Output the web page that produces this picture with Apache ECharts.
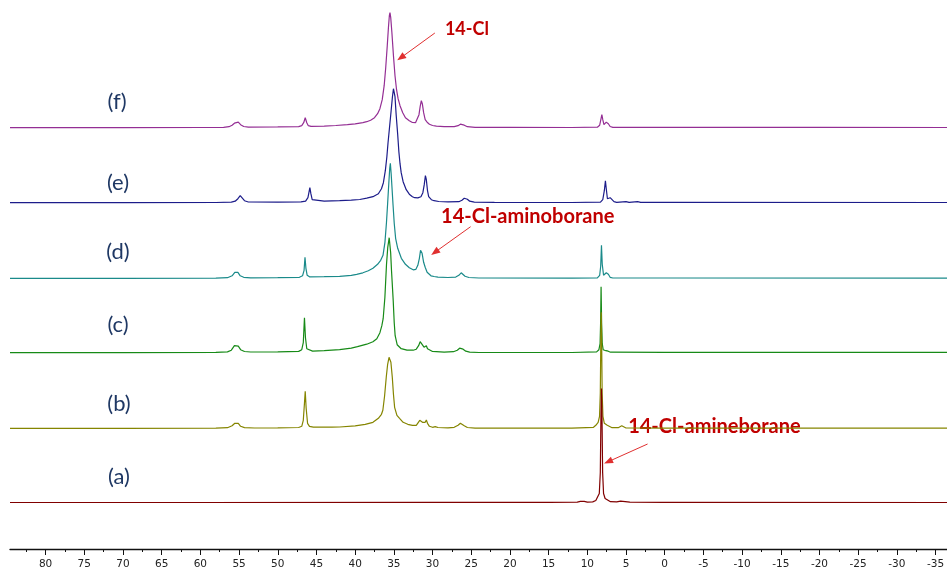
<!DOCTYPE html>
<html>
<head>
<meta charset="utf-8">
<script src="https://cdn.jsdelivr.net/npm/echarts@6/dist/echarts.min.js"></script>
<style>
html,body{margin:0;padding:0;background:#fff;}
#chart{width:947px;height:573px;}
</style>
</head>
<body>
<div id="chart"></div>
<script>
// ---------- DATA (ppm, intensity) ----------
const spectrumLabels = ['(f)', '(e)', '(d)', '(c)', '(b)', '(a)'];

const specF = [[84.6,0],[70,0],[60,0.2],[57,0.4],[56.3,1],[55.9,2.5],[55.6,4.5],[55.35,6.5],[55.1,5.5],[54.8,3],[54.4,1.2],[53.8,0.6],[50,0.8],[47.3,1.1],[46.9,2],[46.65,5],[46.45,10],[46.25,5],[46.05,2],[45.7,1.3],[44,1.6],[42.5,2.2],[41,3],[40,3.8],[39,5],[38.5,6],[38,7.5],[37.5,10],[37.1,14],[36.8,19],[36.5,28],[36.25,42],[36.05,60],[35.85,82],[35.7,100],[35.58,112],[35.5,115],[35.4,110],[35.25,95],[35.05,72],[34.85,52],[34.65,38],[34.45,29],[34.2,22],[33.85,15],[33.5,10],[33.0,7],[32.6,5.2],[32.2,5],[31.95,7],[31.75,13],[31.6,21],[31.45,27],[31.32,24],[31.15,15],[30.95,8],[30.7,5.5],[30.4,3.5],[30.0,2.2],[29.5,1.5],[28.5,1],[27.2,1],[26.7,2],[26.4,3.5],[26.15,4],[25.9,2.5],[25.5,1],[24.5,0.4],[20,0.3],[12,0.2],[8.7,0.5],[8.4,2.5],[8.25,8],[8.12,13],[8.0,8],[7.85,3],[7.7,2.5],[7.55,5.5],[7.42,7],[7.28,4],[7.05,1.2],[6.7,0.4],[0,0.3],[-20,0.3],[-36.5,0.2]];

const specE = [[84.6,0],[70,0],[58,0.2],[56,0.5],[55.5,1.5],[55.15,4],[54.85,7],[54.6,5],[54.3,2],[53.8,0.7],[50,0.5],[47,0.8],[46.4,1.5],[46.1,5],[45.95,11],[45.85,15],[45.72,9],[45.55,3],[45.3,1.5],[44,1.5],[42,2],[40.5,2.5],[39.4,3.2],[38.5,4.5],[37.7,6],[37,9],[36.6,14],[36.35,20],[36.1,32],[35.9,46],[35.75,60],[35.55,76],[35.35,92],[35.18,106],[35.05,114],[34.97,115],[34.85,106],[34.7,88],[34.5,68],[34.35,51],[34.2,39],[34.05,30],[33.8,21],[33.4,13],[33.0,8.5],[32.6,6],[32.3,5],[31.9,4.8],[31.5,6],[31.25,10],[31.07,18],[30.92,27],[30.8,23],[30.65,12],[30.5,6],[30.35,4.5],[30.15,3],[29.8,2],[29.2,1.2],[28,0.8],[26.6,1],[26.2,2.5],[25.9,4.5],[25.7,5],[25.5,3.5],[25.2,1.5],[24.6,0.6],[22,0.3],[12,0.2],[8.3,0.5],[8.0,3],[7.8,12],[7.66,22],[7.55,14],[7.4,4],[7.2,3],[7.05,5],[6.92,7],[6.8,4],[6.55,1],[6.2,0.4],[5,1],[4.6,0.3],[3.5,1],[3.1,0.3],[0,0.3],[-36.5,0.2]];

const specD = [[84.6,0],[70,0],[58,0.2],[56.5,0.6],[55.9,2.5],[55.55,6],[55.35,8],[55.15,6],[54.85,2.5],[54.4,1],[53.5,0.5],[50,0.6],[47.2,1],[46.8,2.5],[46.6,8],[46.48,21],[46.36,10],[46.2,3],[45.9,1.5],[44,1.6],[42,2],[40.5,3],[39.8,4],[39,5.5],[38.3,7.5],[37.7,10],[37.1,14],[36.7,18],[36.4,23],[36.15,36],[35.95,56],[35.8,75],[35.65,95],[35.53,110],[35.45,115],[35.35,105],[35.1,73],[34.95,55],[34.77,40],[34.5,30],[34.03,20],[33.5,14],[33.0,10.5],[32.5,8.5],[32.15,9],[31.9,13],[31.7,20],[31.55,28],[31.47,30],[31.35,25],[31.15,16],[30.95,11],[30.85,10],[30.7,6],[30.5,4],[30.2,2.5],[29.8,1.8],[29.3,1.2],[28,0.8],[27,1.2],[26.6,3],[26.3,5.5],[26.1,4.5],[25.8,2],[25.3,0.8],[24,0.3],[12,0.2],[8.7,0.4],[8.4,3],[8.27,12],[8.17,33],[8.07,14],[7.9,3],[7.7,2.5],[7.55,5.5],[7.42,7.5],[7.28,4],[7.05,1],[6.7,0.3],[0,0.3],[-36.5,0.2]];

const specC = [[84.6,0],[70,0],[58,0.3],[56.5,0.8],[56,2.5],[55.6,7],[55.35,9],[55.1,6.5],[54.8,3],[54.3,1.2],[53.5,0.7],[50,0.8],[47.3,1.3],[46.9,3],[46.7,10],[46.55,35],[46.42,15],[46.25,4],[46,2],[45.5,1.6],[44,2],[42,3],[40.5,4.5],[39.7,6],[38.5,8.5],[37.7,11],[37.2,14],[36.8,20],[36.55,27],[36.38,34],[36.16,55],[35.95,88],[35.79,105],[35.6,115],[35.41,100],[35.3,82],[35.08,52],[34.95,30],[34.83,17],[34.57,8],[34.05,4],[33.3,2.5],[32.5,2.5],[32.1,3.5],[31.8,7],[31.6,11],[31.5,12.3],[31.35,9],[31.1,5.5],[30.8,7],[30.65,4],[30.4,2],[30.0,1.2],[29.75,1.8],[29.5,1],[28.5,0.6],[27.3,1],[26.8,2.5],[26.5,4.5],[26.3,5.3],[26.05,3.5],[25.7,1.5],[25.2,0.5],[24,0.2],[12,0.2],[8.8,0.8],[8.5,3],[8.35,9],[8.28,30],[8.22,66],[8.15,30],[8.07,9],[7.95,3],[7.8,1.5],[7.6,2],[7.45,2.8],[7.3,1.5],[7.0,0.5],[0,0.3],[-36.5,0.3]];

const specB = [[84.6,0],[70,0],[58,0.2],[56.5,0.6],[55.9,2.5],[55.55,5],[55.35,6.5],[55.1,5],[54.8,2],[54.3,0.7],[53,0.3],[50,0.4],[47.3,0.8],[46.9,2],[46.7,8],[46.55,25],[46.45,37],[46.33,20],[46.15,5],[45.9,2],[45.4,1.2],[43,1.2],[42,1.3],[40,2.5],[38.7,4],[37.7,6],[37,10],[36.6,14],[36.42,18],[36.2,32],[35.98,51],[35.8,64],[35.62,71],[35.5,71.5],[35.38,66],[35.2,51],[35.05,34],[34.9,21],[34.6,13],[34.26,10],[33.8,6],[33.2,4],[32.6,3],[32.1,3],[31.85,5],[31.65,8],[31.5,9.3],[31.3,6],[31.1,4],[30.95,6],[30.8,8.3],[30.65,5],[30.4,2],[30.0,1],[29.65,1.7],[29.3,0.8],[28,0.4],[27.2,1],[26.7,3],[26.4,5],[26.2,4.8],[25.9,2.5],[25.5,0.8],[24.5,0.2],[12,0.2],[9.2,1],[8.9,3],[8.6,6],[8.42,12],[8.32,35],[8.25,90],[8.2,116],[8.15,90],[8.08,35],[7.98,12],[7.8,5],[7.6,3],[7.42,3],[7.25,1.5],[6.8,0.6],[6,0.6],[5.75,2],[5.55,2.5],[5.35,1],[5,0.3],[0,0.2],[-36.5,0.2]];

const specA = [[84.6,0],[60,0],[30,0.2],[15,0.2],[11.3,0.4],[10.9,1.2],[10.65,2.2],[10.4,1.2],[10.0,0.4],[9.3,0.6],[8.9,2],[8.65,4],[8.45,9],[8.32,30],[8.24,85],[8.17,114],[8.1,85],[8.02,30],[7.9,9],[7.7,4],[7.45,2],[7.0,0.8],[6.2,0.6],[5.7,1.3],[5.5,0.5],[4.5,0.3],[0,0.2],[-36.5,0]];

const spectra = [specF, specE, specD, specC, specB, specA];

// axis ticks (ppm)
const majorTicks = [80,75,70,65,60,55,50,45,40,35,30,25,20,15,10,5,0,-5,-10,-15,-20,-25,-30,-35];
const minorTicks = [82.5,77.5,72.5,67.5,62.5,57.5,52.5,47.5,42.5,37.5,32.5,27.5,22.5,17.5,12.5,7.5,2.5,-2.5,-7.5,-12.5,-17.5,-22.5,-27.5,-32.5];

// annotations
const annotTexts = ['14-Cl', '14-Cl-aminoborane', '14-Cl-amineborane'];
const annotSpectrum = [0, 2, 5];
const annotTextPos = [[28.4, 98.7], [28.9, 61.6], [4.72, 75.8]];
const annotArrowFrom = [[29.7, 94.7], [25.08, 51.6], [2.21, 58.5]];
const annotArrowTo = [[34.09, 70], [29.7, 26], [7.3, 40.8]];

// ---------- LAYOUT / STYLE ----------
const colors = ['#942e94', '#1c1c8a', '#1a8a8a', '#178a17', '#858500', '#800000'];
const baselines = [127.7, 202.7, 278.3, 352.7, 428.3, 502.5];
const labelPos = [[117, 102], [118, 183], [118, 252], [118, 325], [119, 404], [119, 477]];
const annotFontSize = [18, 20, 20];
const X_MIN = -36.48, X_MAX = 84.6;
const GRID_LEFT = 10, GRID_RIGHT = 0;
const ABOVE = 125, BELOW = 5;

const grids = [], xAxes = [], yAxes = [], series = [];
spectra.forEach((data, i) => {
  grids.push({left: GRID_LEFT, right: GRID_RIGHT, top: baselines[i] - ABOVE, height: ABOVE + BELOW,
    containLabel: false, outerBoundsMode: 'none'});
  xAxes.push({type: 'value', gridIndex: i, min: X_MIN, max: X_MAX, inverse: true, show: false});
  yAxes.push({type: 'value', gridIndex: i, min: -BELOW, max: ABOVE, show: false});
  const s = {
    type: 'line', xAxisIndex: i, yAxisIndex: i, data: data,
    showSymbol: false, symbol: 'none', smooth: false, clip: false,
    lineStyle: {color: colors[i], width: 1.2}, itemStyle: {color: colors[i]},
    silent: true, z: 2 + i
  };
  const idx = annotSpectrum.indexOf(i);
  if (idx >= 0) {
    s.markLine = {
      silent: true, symbol: ['none', 'triangle'], symbolSize: [7, 9], animation: false,
      label: {show: false},
      lineStyle: {color: '#e03030', width: 1, type: 'solid'},
      data: [[{coord: annotArrowFrom[idx]}, {coord: annotArrowTo[idx]}]]
    };
    s.markPoint = {
      silent: true, symbol: 'circle', symbolSize: 0, animation: false,
      label: {show: true, position: 'right', distance: 0, formatter: annotTexts[idx],
        fontFamily: 'Lato', fontWeight: 'bold', fontSize: annotFontSize[idx], color: '#c00000'},
      data: [{coord: annotTextPos[idx]}]
    };
  }
  series.push(s);
});

// axis grid
grids.push({left: GRID_LEFT, right: GRID_RIGHT, top: 500, height: 49, containLabel: false, outerBoundsMode: 'none'});
const ai = spectra.length;
xAxes.push({
  type: 'value', gridIndex: ai, min: X_MIN, max: X_MAX, inverse: true, position: 'bottom',
  axisLine: {show: true, lineStyle: {color: '#111', width: 1.3}},
  axisTick: {show: true, length: 6, lineStyle: {color: '#111', width: 1}, customValues: majorTicks},
  axisLabel: {show: true, customValues: majorTicks, margin: 10, color: '#222',
    fontFamily: 'DejaVu Sans', fontSize: 10.5, hideOverlap: false},
  splitLine: {show: false}
});
xAxes.push({
  type: 'value', gridIndex: ai, min: X_MIN, max: X_MAX, inverse: true, position: 'bottom',
  axisLine: {show: false},
  axisTick: {show: true, length: 3, lineStyle: {color: '#111', width: 1}, customValues: minorTicks},
  axisLabel: {show: false},
  splitLine: {show: false}
});
yAxes.push({type: 'value', gridIndex: ai, show: false, min: 0, max: 1});

const graphics = spectrumLabels.map((t, i) => ({
  type: 'text', x: labelPos[i][0], y: labelPos[i][1],
  style: {text: t, fill: '#1f3864', font: '22px Lato', align: 'center', verticalAlign: 'middle'}
}));

const chart = echarts.init(document.getElementById('chart'), null, {renderer: 'canvas'});
chart.setOption({
  animation: false,
  backgroundColor: '#ffffff',
  grid: grids, xAxis: xAxes, yAxis: yAxes, series: series, graphic: graphics
});
</script>
</body>
</html>
